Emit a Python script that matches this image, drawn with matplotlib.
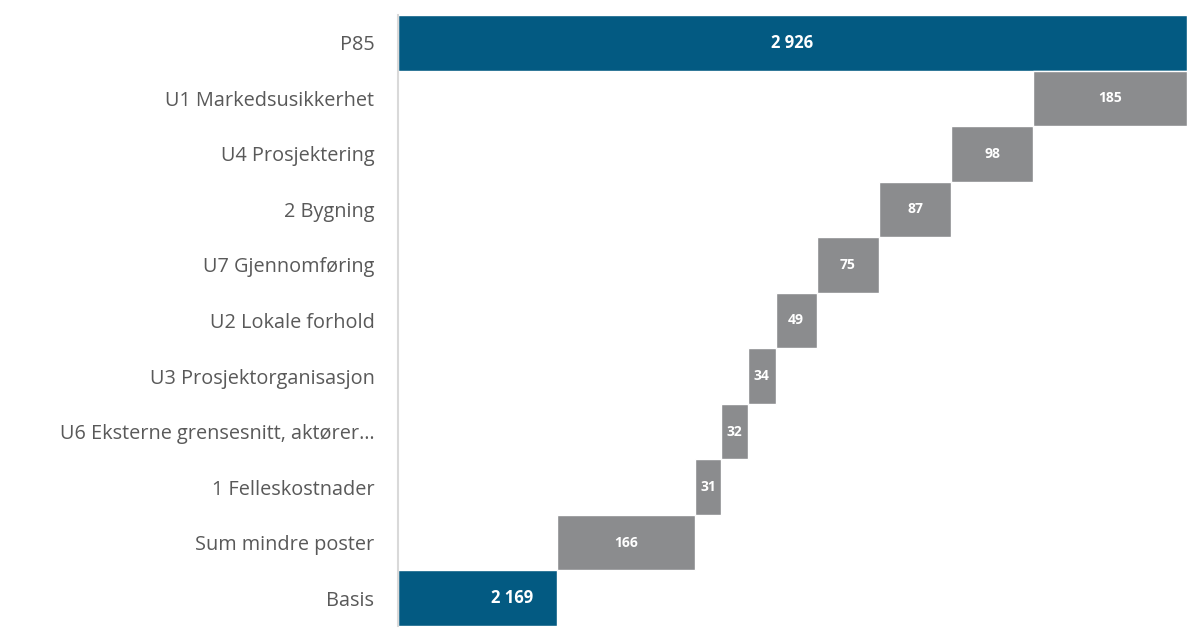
import numpy as np
import matplotlib.pyplot as plt

# categories from bottom to top
labels = ["Basis", "Sum mindre poster", "1 Felleskostnader",
          "U6 Eksterne grensesnitt, aktører…", "U3 Prosjektorganisasjon",
          "U2 Lokale forhold", "U7 Gjennomføring", "2 Bygning",
          "U4 Prosjektering", "U1 Markedsusikkerhet", "P85"]
basis = 2169
steps = [166, 31, 32, 34, 49, 75, 87, 98, 185]
p85 = 2926
xmin = 1978  # axis starts here, not at zero

blue = "#035a82"
grey = "#8b8c8e"

fig = plt.figure(figsize=(12.02, 6.41), dpi=100)
ax = fig.add_axes([398 / 1202, 15 / 641, (1187 - 398) / 1202, (626 - 15) / 641])

y = np.arange(len(labels))

# total bars
ax.barh(0, basis - xmin, left=xmin, height=1.0, color=blue, edgecolor="white", linewidth=1)
ax.barh(len(labels) - 1, p85 - xmin, left=xmin, height=1.0, color=blue, edgecolor="white", linewidth=1)
ax.text(xmin + (basis - xmin) * 0.72, 0, "2 169", ha="center", va="center",
        color="white", fontsize=12, fontweight="bold", family="Open Sans")
ax.text((xmin + p85) / 2, len(labels) - 1, "2 926", ha="center", va="center",
        color="white", fontsize=12, fontweight="bold", family="Open Sans")

# step bars
starts = basis + np.concatenate([[0], np.cumsum(steps)[:-1]])
for i, (s, v) in enumerate(zip(starts, steps)):
    ax.barh(i + 1, v, left=s, height=1.0, color=grey, edgecolor="white", linewidth=1)
    ax.text(s + v / 2, i + 1, str(v), ha="center", va="center",
            color="white", fontsize=10, fontweight="bold", family="Open Sans")

ax.set_xlim(xmin, p85)
ax.set_ylim(-0.5, len(labels) - 0.5)
ax.set_yticks(y)
ax.set_yticklabels(labels, fontsize=14.3, color="#595959", family="Open Sans")
ax.tick_params(axis="y", length=0, pad=17)
ax.set_xticks([])
for side in ["top", "right", "bottom"]:
    ax.spines[side].set_visible(False)
ax.spines["left"].set_color("#d9d9d9")
ax.spines["left"].set_linewidth(1.5)

plt.savefig("out.png", dpi=100)
